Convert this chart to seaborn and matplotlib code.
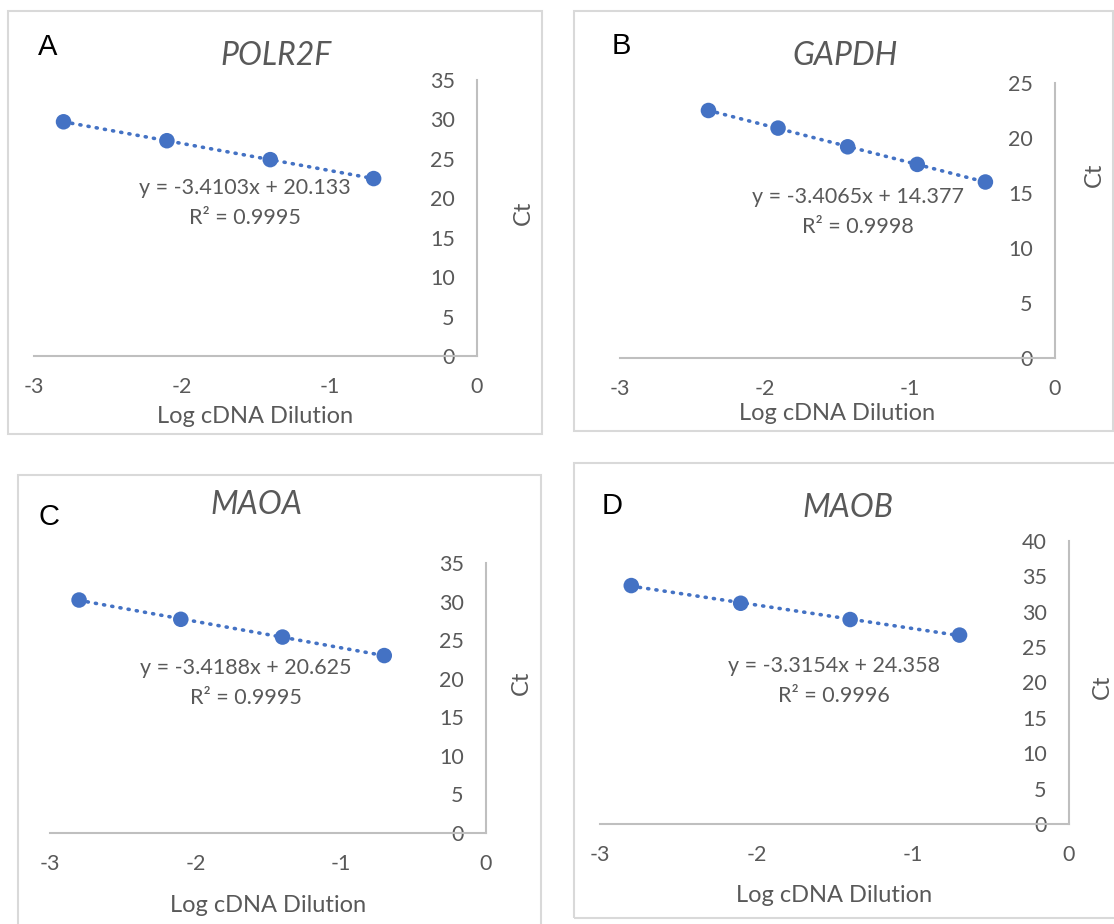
import matplotlib
matplotlib.use("Agg")
import matplotlib.pyplot as plt
from matplotlib.patches import Rectangle
import seaborn as sns

# Standard curves: log cDNA dilution vs Ct
genes = ['POLR2F', 'GAPDH', 'MAOA', 'MAOB']
letters = ['A', 'B', 'C', 'D']

polr2f_x = [-2.80, -2.10, -1.40, -0.70]
polr2f_ct = [29.7, 27.3, 24.9, 22.5]

gapdh_x = [-2.39, -1.91, -1.43, -0.95, -0.48]
gapdh_ct = [22.5, 20.9, 19.2, 17.6, 16.0]

maoa_x = [-2.80, -2.10, -1.40, -0.70]
maoa_ct = [30.2, 27.7, 25.4, 23.0]

maob_x = [-2.80, -2.10, -1.40, -0.70]
maob_ct = [33.7, 31.2, 28.9, 26.7]

equations = ['y = -3.4103x + 20.133', 'y = -3.4065x + 14.377',
             'y = -3.4188x + 20.625', 'y = -3.3154x + 24.358']
r_squared = ['R² = 0.9995', 'R² = 0.9998', 'R² = 0.9995', 'R² = 0.9996']
y_max = [35, 25, 35, 40]

xs = [polr2f_x, gapdh_x, maoa_x, maob_x]
cts = [polr2f_ct, gapdh_ct, maoa_ct, maob_ct]

# layout in pixels (figure is 1114 x 924)
W, H = 1114, 924
# axes: left, right, bottom, top
axes_px = [(34, 477, 356, 80), (620, 1055, 358, 83),
           (50, 486, 833, 563), (600, 1069, 824, 541)]
# panel border boxes: left, top, right, bottom
boxes = [(8, 11, 542, 434), (574, 11, 1113, 431),
         (18, 475, 541, 940), (574, 463, 1130, 918)]
letter_pos = [(48, 47), (621, 46), (49, 517), (612, 506)]
title_pos = [(276, 56), (845, 56), (256, 505), (848, 508)]
eq_pos = [(245, 188), (858, 197), (246, 668), (834, 666)]
ct_pos = [(523, 213), (1094, 175), (521, 683), (1102, 687)]
xlab_y = [416, 413, 905, 896]

sns.set_theme(style='white')
plt.rcParams['font.family'] = ['Lato', 'DejaVu Sans']

blue = '#4472C4'
grey_text = '#595959'
axis_grey = '#BFBFBF'

fig = plt.figure(figsize=(W / 100, H / 100), dpi=100)
fig.patch.set_facecolor('white')


def fx(px):
    return px / W


def fy(py):
    return 1 - py / H


for i in range(4):
    l, r, b, t = axes_px[i]
    ax = fig.add_axes([fx(l), fy(b), (r - l) / W, (b - t) / H])
    ax.set_facecolor('none')

    sns.regplot(x=xs[i], y=cts[i], ax=ax, ci=None, scatter=False,
                line_kws=dict(color=blue, lw=2.6, ls=(0, (0.3, 2.0)),
                              dash_capstyle='round', zorder=2))
    sns.scatterplot(x=xs[i], y=cts[i], ax=ax, s=125, color=blue,
                    edgecolor='none', zorder=3, clip_on=False)

    ax.set_xlim(-3, 0)
    ax.set_ylim(0, y_max[i])
    ax.set_xticks([-3, -2, -1, 0])
    ax.set_yticks(range(0, y_max[i] + 1, 5))
    ax.set_xticklabels(['-3', '-2', '-1', '0'])

    for s in ['top', 'right']:
        ax.spines[s].set_visible(False)
    ax.spines['left'].set_position(('axes', 1.0))
    for s in ['left', 'bottom']:
        ax.spines[s].set_color(axis_grey)
        ax.spines[s].set_linewidth(1.5)
    ax.tick_params(axis='x', length=0, pad=15, labelsize=15.5, labelcolor=grey_text)
    ax.tick_params(axis='y', length=0, pad=16, labelsize=15.5, labelcolor=grey_text)
    ax.set_xlabel('')
    ax.set_ylabel('')

    # border of each panel
    bl, bt, br, bb = boxes[i]
    fig.add_artist(Rectangle((fx(bl), fy(bb)), (br - bl) / W, (bb - bt) / H,
                             transform=fig.transFigure, fill=False,
                             edgecolor='#D9D9D9', lw=1.5))

    fig.text(fx(letter_pos[i][0]), fy(letter_pos[i][1]), letters[i],
             family='Liberation Sans', fontsize=21, color='black',
             ha='center', va='center')
    fig.text(fx(title_pos[i][0]), fy(title_pos[i][1]), genes[i],
             fontsize=23, style='italic', color=grey_text,
             ha='center', va='center')
    ex, ey = eq_pos[i]
    fig.text(fx(ex), fy(ey), equations[i], fontsize=15.5, color=grey_text,
             ha='center', va='center')
    fig.text(fx(ex), fy(ey + 30), r_squared[i], fontsize=15.5, color=grey_text,
             ha='center', va='center')
    fig.text(fx(ct_pos[i][0]), fy(ct_pos[i][1]), 'Ct', fontsize=17,
             color=grey_text, rotation=90, ha='center', va='center')
    fig.text(fx((l + r) / 2), fy(xlab_y[i]), 'Log cDNA Dilution', fontsize=17,
             color=grey_text, ha='center', va='center')

fig.savefig('out.png', dpi=100, facecolor='white')
